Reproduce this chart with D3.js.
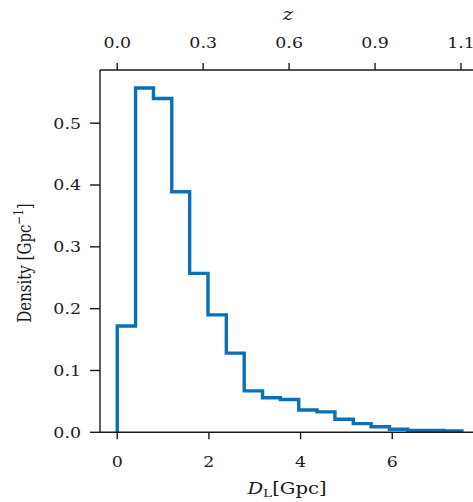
<!DOCTYPE html>
<html>
<head>
<meta charset="utf-8">
<script src="https://cdn.jsdelivr.net/npm/d3@7"></script>
<style>
  body { margin: 0; background: #fff; }
  svg text { font-family: "DejaVu Serif", serif; fill: #1a1a1a; }
</style>
</head>
<body>
<div id="chart"></div>
<script>
// histogram bin edges (Gpc) and density per bin
const binEdges = [0, 0.40, 0.79, 1.19, 1.58, 1.98, 2.38, 2.77, 3.17, 3.56, 3.96,
                  4.36, 4.75, 5.15, 5.54, 5.94, 6.34, 6.73, 7.13, 7.52];
const densities = [0.172, 0.557, 0.540, 0.389, 0.257, 0.190, 0.128, 0.067, 0.056, 0.053,
                   0.036, 0.033, 0.021, 0.014, 0.009, 0.005, 0.003, 0.003, 0.002];

const xTicks = [0, 2, 4, 6];
const yTicks = [0, 0.1, 0.2, 0.3, 0.4, 0.5];
// top axis: positions in D_L, labels in redshift
const zTickPos = [0, 1.875, 3.75, 5.625, 7.5];
const zTickLabels = ["0.0", "0.3", "0.6", "0.9", "1.1"];

const width = 473, height = 502;
const margin = {top: 70, left: 100, bottom: 432.3, right: 479.6};
const sx = 1.2;   // the reference text is a bit wider than tall
const fs = 14.5;  // tick labels
const fsl = 16.3; // axis titles

const x = d3.scaleLinear().domain([-0.376, 7.906]).range([margin.left, margin.right]);
const y = d3.scaleLinear().domain([0, 0.586]).range([margin.bottom, margin.top]);

const svg = d3.select("#chart").append("svg")
    .attr("width", width)
    .attr("height", height);

// text helper: stretched horizontally
function label(parent, px, py, anchor, size, build) {
    const g = parent.append("g").attr("transform", `translate(${px},${py}) scale(${sx},1)`);
    const t = g.append("text").attr("text-anchor", anchor).attr("font-size", size);
    build(t);
    return g;
}

// step outline
const pts = [[binEdges[0], 0]];
densities.forEach((d, i) => {
    pts.push([binEdges[i], d]);
    pts.push([binEdges[i + 1], d]);
});
pts.push([binEdges[binEdges.length - 1], 0]);

const line = d3.line().x(d => x(d[0])).y(d => y(d[1]));

svg.append("path")
    .attr("d", line(pts))
    .attr("fill", "none")
    .attr("stroke", "#0b70b8")
    .attr("stroke-width", 3.4)
    .attr("stroke-linejoin", "miter");

// spines
const spine = "#1a1a1a";
svg.append("line").attr("x1", margin.left).attr("x2", margin.left)
    .attr("y1", margin.top).attr("y2", margin.bottom)
    .attr("stroke", spine).attr("stroke-width", 1.4);
svg.append("line").attr("x1", margin.left).attr("x2", margin.right)
    .attr("y1", margin.bottom).attr("y2", margin.bottom)
    .attr("stroke", spine).attr("stroke-width", 1.4);
svg.append("line").attr("x1", margin.left).attr("x2", margin.right)
    .attr("y1", margin.top).attr("y2", margin.top)
    .attr("stroke", spine).attr("stroke-width", 1.4);

// bottom ticks
xTicks.forEach(v => {
    svg.append("line").attr("x1", x(v)).attr("x2", x(v))
        .attr("y1", margin.bottom).attr("y2", margin.bottom + 7)
        .attr("stroke", spine).attr("stroke-width", 1.4);
    label(svg, x(v), 467, "middle", fs, t => t.text(d3.format("d")(v)));
});

// left ticks
yTicks.forEach(v => {
    svg.append("line").attr("x1", margin.left - 10).attr("x2", margin.left)
        .attr("y1", y(v)).attr("y2", y(v))
        .attr("stroke", spine).attr("stroke-width", 1.4);
    label(svg, 81, y(v) + 5.5, "end", fs, t => t.text(d3.format(".1f")(v)));
});

// top ticks (redshift)
zTickPos.forEach((v, i) => {
    svg.append("line").attr("x1", x(v)).attr("x2", x(v))
        .attr("y1", margin.top).attr("y2", margin.top - 7)
        .attr("stroke", spine).attr("stroke-width", 1.4);
    label(svg, x(v), 48, "middle", fs, t => t.text(zTickLabels[i]));
});

// axis titles
label(svg, 288, 20, "middle", fsl, t => t.attr("font-style", "italic").text("z"));

label(svg, 287, 494, "middle", fsl, t => {
    t.append("tspan").attr("font-style", "italic").text("D");
    t.append("tspan").attr("font-size", fsl * 0.7).attr("dy", 3).text("L");
    t.append("tspan").attr("dy", -3).text("[Gpc]");
});

const fsy = 15;
const yl = svg.append("g").attr("transform", `translate(31,263) rotate(-90) scale(1,${sx})`);
const ylt = yl.append("text").attr("text-anchor", "middle").attr("font-size", fsy);
ylt.append("tspan").text("Density [Gpc");
ylt.append("tspan").attr("font-size", fsy * 0.7).attr("dy", -6.5).text("\u22121");
ylt.append("tspan").attr("dy", 6.5).text("]");
</script>
</body>
</html>
